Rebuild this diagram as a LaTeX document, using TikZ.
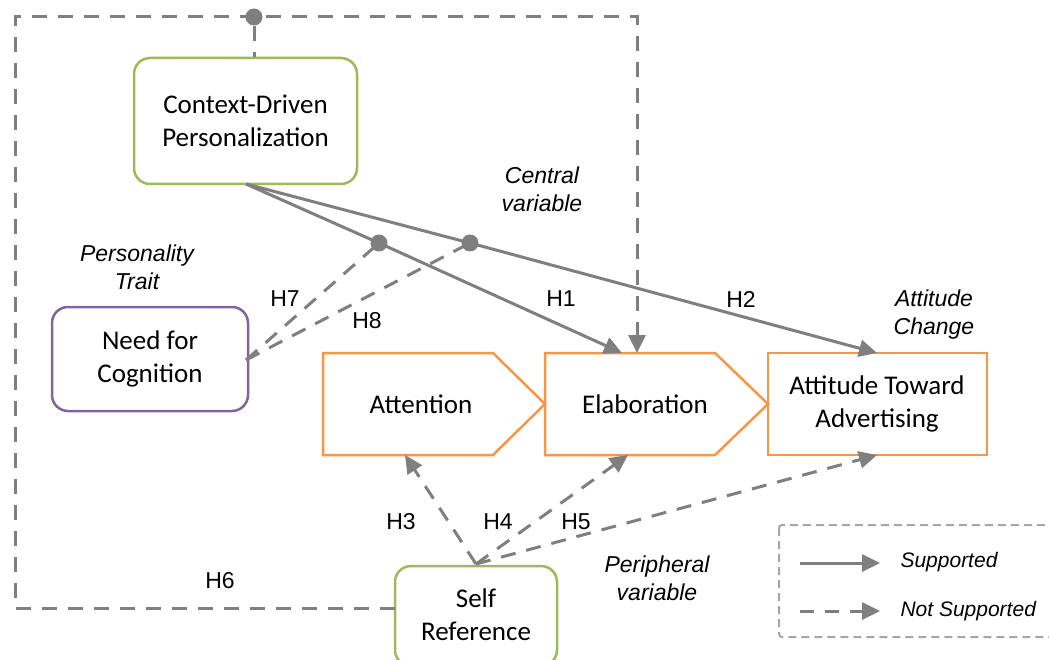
\documentclass[tikz,border=0pt]{standalone}
\usepackage{fontspec}
\setmainfont{Carlito}
\newfontfamily\labelfont{Liberation Sans}
\usetikzlibrary{arrows.meta}
\definecolor{linkgray}{HTML}{7F7F7F}
\definecolor{boxgreen}{HTML}{9BBB59}
\definecolor{boxpurple}{HTML}{8064A2}
\definecolor{boxorange}{HTML}{F79646}
\definecolor{legendgray}{HTML}{A6A6A6}
\tikzset{
  roundbox/.style={draw, line width=2.5pt, rounded corners=16pt, align=center,
    font=\fontsize{27}{33}\selectfont},
  stagetext/.style={align=center, font=\fontsize{27}{33}\selectfont},
  stageline/.style={draw=boxorange, line width=2.5pt, line join=miter},
  link/.style={draw=linkgray, line width=3pt},
  linkdash/.style={link, dash pattern=on 15pt off 11pt},
  tip/.style={-{Triangle[length=18pt,width=17pt]}},
  hlabel/.style={font=\labelfont\fontsize{23}{26}\selectfont},
  note/.style={font=\labelfont\itshape\fontsize{23}{28}\selectfont, align=center},
  legendnote/.style={font=\labelfont\itshape\fontsize{21}{24}\selectfont, anchor=west},
  dot/.style={circle, fill=linkgray, inner sep=0pt, minimum size=17pt}
}
\begin{document}
\begin{tikzpicture}[x=1pt,y=-1pt]
\useasboundingbox (0,0) rectangle (1049,660);
\clip (0,0) rectangle (1049,660);

% rounded construct boxes
\node[roundbox, draw=boxgreen, minimum width=223pt, minimum height=126pt] (cdp) at (245.5,121) {Context-Driven\\Personalization};
\node[roundbox, draw=boxpurple, minimum width=196pt, minimum height=104pt] (nfc) at (150,359) {Need for\\Cognition};
\node[roundbox, draw=boxgreen, minimum width=162pt, minimum height=100pt] (self) at (476,616) {};
\node[stagetext] (selftext) at (476,615) {Self\\Reference};

% process stages (arrow-shaped boxes)
\draw[stageline] (323,353) -- (493,353) -- (545,404) -- (493,455) -- (323,455) -- cycle;
\draw[stageline] (545,353) -- (715,353) -- (768,404) -- (715,455) -- (545,455) -- cycle;
\draw[stageline] (768,353) rectangle (987,455);
\node[stagetext] (att) at (421,404) {Attention};
\node[stagetext] (elab) at (645,404) {Elaboration};
\node[stagetext] (atad) at (877,404) {Attitude Toward\\Advertising};

% anchor points on the stage borders
\coordinate (elabtop1) at (622,353);
\coordinate (elabtop2) at (637,353);
\coordinate (atadtop) at (877,353);
\coordinate (attbot) at (405,455);
\coordinate (elabbot) at (628,455);
\coordinate (atadbot) at (877,455);
\coordinate (cdpout) at (246,184);
\coordinate (selfin) at (476,564);
\coordinate (nfcout) at (246,360);

% H6 loop from Self Reference around to Elaboration
\coordinate (selfleft) at (395,608);
\coordinate (loopbl) at (15,608);
\coordinate (looptl) at (15,17);
\coordinate (looptr) at (637,17);
\node[dot] (topdot) at (254,17) {};
\draw[linkdash, tip] (selfleft) -- (loopbl) -- (looptl) -- (looptr) -- (elabtop2);
\draw[linkdash] (topdot) -- (cdp.north -| topdot);

% central route
\node[dot] (dot1) at (379,243) {};
\node[dot] (dot2) at (470,243) {};
\draw[link, tip] (cdpout) -- (dot1.center) -- (elabtop1);
\draw[link, tip] (cdpout) -- (dot2.center) -- (atadtop);

% moderation by need for cognition
\draw[linkdash] (nfcout) -- (dot1.center);
\draw[linkdash] (nfcout) -- (dot2.center);

% peripheral route
\draw[linkdash, tip] (selfin) -- (attbot);
\draw[linkdash, tip] (selfin) -- (elabbot);
\draw[linkdash, tip] (selfin) -- (atadbot);

% hypothesis labels
\node[hlabel] (h1) at (561,299) {H1};
\node[hlabel] (h2) at (741,299) {H2};
\node[hlabel] (h3) at (401,522) {H3};
\node[hlabel] (h4) at (498,522) {H4};
\node[hlabel] (h5) at (576,522) {H5};
\node[hlabel] (h6) at (220,581) {H6};
\node[hlabel] (h7) at (285,299) {H7};
\node[hlabel] (h8) at (367,321) {H8};

% variable notes
\node[note] (central) at (542,189) {Central\\variable};
\node[note] (trait) at (137,267) {Personality\\Trait};
\node[note] (change) at (934,315) {Attitude\\Change};
\node[note] (periph) at (657,578) {Peripheral\\variable};

% legend
\draw[draw=legendgray, line width=2pt, dash pattern=on 8pt off 5pt, rounded corners=3pt] (779,525) rectangle (1070,637);
\coordinate (ls1) at (800,563);
\coordinate (le1) at (880,563);
\coordinate (ls2) at (800,611);
\coordinate (le2) at (880,611);
\draw[link, tip] (ls1) -- (le1);
\draw[linkdash, tip, dash pattern=on 14pt off 11pt] (ls2) -- (le2);
\node[legendnote] (sup) at (897,562) {Supported};
\node[legendnote] (nsup) at (897,611) {Not Supported};
\end{tikzpicture}
\end{document}
